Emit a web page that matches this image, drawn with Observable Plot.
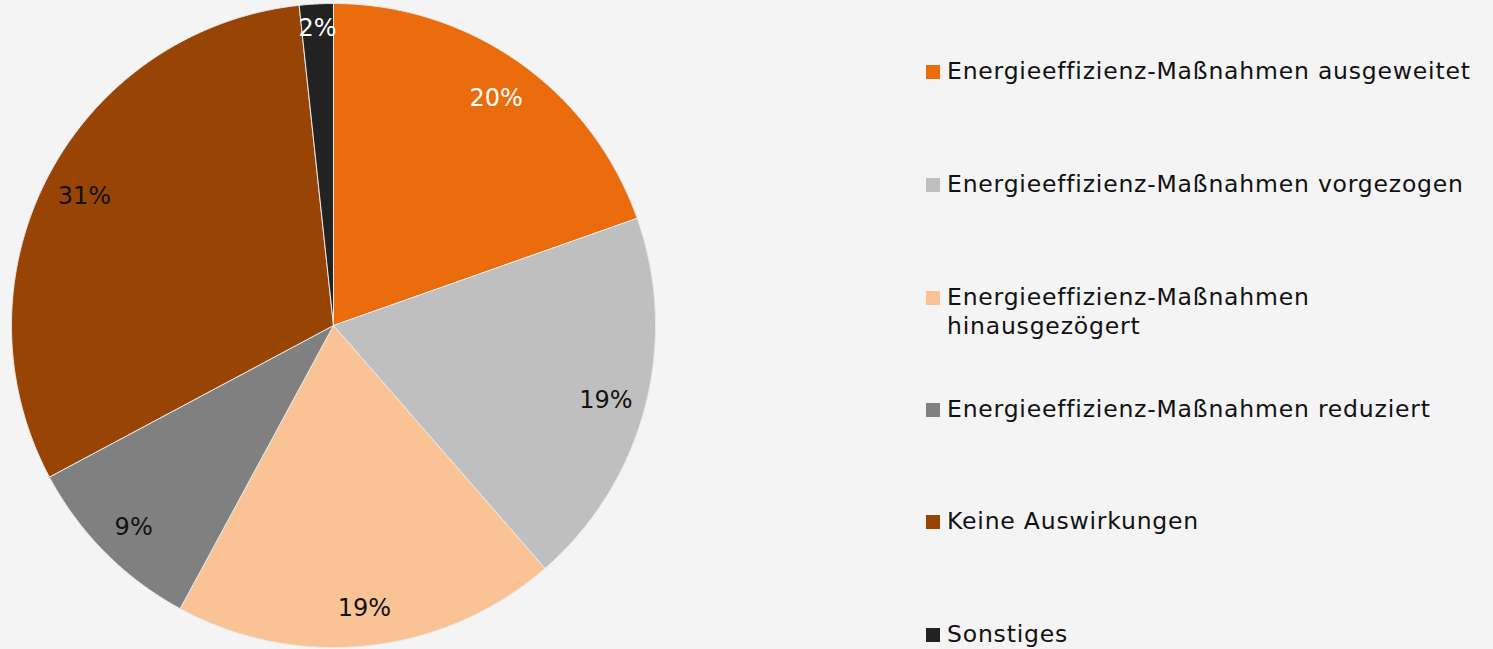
<!DOCTYPE html>
<html><head><meta charset="utf-8">
<script src="https://cdn.jsdelivr.net/npm/d3@7"></script>
<script src="https://cdn.jsdelivr.net/npm/@observablehq/plot@0.6"></script>
<style>
html,body{margin:0;padding:0;background:#f4f4f4;}
#wrap{position:relative;width:1493px;height:649px;overflow:hidden;font-family:"DejaVu Sans",sans-serif;}
#chart{position:absolute;left:0;top:0;}
.leg{position:absolute;left:926px;font-size:23.5px;letter-spacing:0.8px;line-height:29px;color:#111;white-space:nowrap;}
.sw{position:absolute;left:0;top:8px;width:14px;height:14px;}
.lt{margin-left:21px;}
</style></head>
<body><div id="wrap"><div id="chart"></div><div id="legend"></div></div>
<script>
const categories = [
  "Energieeffizienz-Maßnahmen ausgeweitet",
  "Energieeffizienz-Maßnahmen vorgezogen",
  "Energieeffizienz-Maßnahmen hinausgezögert",
  "Energieeffizienz-Maßnahmen reduziert",
  "Keine Auswirkungen",
  "Sonstiges"
];
const legendLines = [
  ["Energieeffizienz-Maßnahmen ausgeweitet"],
  ["Energieeffizienz-Maßnahmen vorgezogen"],
  ["Energieeffizienz-Maßnahmen", "hinausgezögert"],
  ["Energieeffizienz-Maßnahmen reduziert"],
  ["Keine Auswirkungen"],
  ["Sonstiges"]
];
const values = [19.6, 19.0, 19.3, 9.3, 31.1, 1.7];
const labels = ["20%", "19%", "19%", "9%", "31%", "2%"];
const colors = ["#EB6C0C", "#BFBFBF", "#F9C396", "#808080", "#984404", "#222222"];
const labelColors = ["#ffffff", "#111111", "#111111", "#111111", "#111111", "#ffffff"];

const total = d3.sum(values);
let cum = 0;
const slices = values.map((v, i) => {
  const a0 = cum / total * 2 * Math.PI;
  cum += v;
  const a1 = cum / total * 2 * Math.PI;
  return {cat: categories[i], a0, a1, i};
});
const poly = [];
for (const s of slices) {
  poly.push({cat: s.cat, x: 0, y: 0});
  const n = Math.max(4, Math.ceil((s.a1 - s.a0) / 0.005));
  for (let k = 0; k <= n; k++) {
    const a = s.a0 + (s.a1 - s.a0) * k / n;
    poly.push({cat: s.cat, x: Math.sin(a), y: Math.cos(a)});
  }
  poly.push({cat: s.cat, x: 0, y: 0});
}
const labelData = slices.map(s => {
  const m = (s.a0 + s.a1) / 2;
  const r = (s.a1 - s.a0) < 0.3 ? 0.935 : 0.875;
  return {cat: s.cat, x: r * Math.sin(m), y: r * Math.cos(m), text: labels[s.i], c: labelColors[s.i]};
});

const chart = Plot.plot({
  width: 667, height: 649,
  marginLeft: 11, marginRight: 12, marginTop: 3, marginBottom: 2,
  style: {background: "transparent", fontFamily: "DejaVu Sans, sans-serif"},
  x: {domain: [-1, 1], axis: null},
  y: {domain: [-1, 1], axis: null},
  color: {domain: categories, range: colors},
  marks: [
    Plot.line(poly, {x: "x", y: "y", z: "cat", fill: "cat", stroke: "#e8e8e8", strokeWidth: 1, curve: "linear"}),
    Plot.text(labelData, {x: "x", y: "y", text: "text", fill: d => d.c, fontSize: 24, dy: 3})
  ]
});
document.getElementById("chart").appendChild(chart);

const tops = [57, 170, 283, 395, 507, 620];
const leg = document.getElementById("legend");
legendLines.forEach((lines, i) => {
  const d = document.createElement("div");
  d.className = "leg";
  d.style.top = tops[i] + "px";
  d.innerHTML = `<span class="sw" style="background:${colors[i]}"></span>` +
    lines.map(l => `<div class="lt">${l}</div>`).join("");
  leg.appendChild(d);
});
</script></body></html>
